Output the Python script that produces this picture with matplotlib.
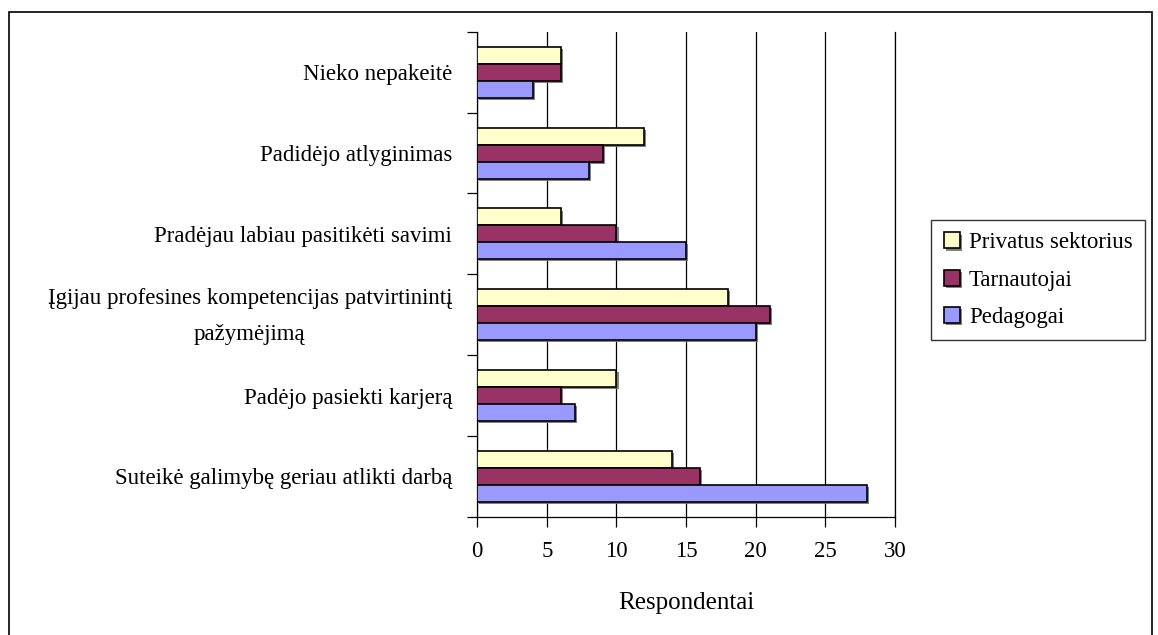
import matplotlib
matplotlib.use("Agg")
import matplotlib.pyplot as plt
import matplotlib.patheffects as pe
from matplotlib.patches import Rectangle
from matplotlib.transforms import ScaledTranslation
import numpy as np

plt.rcParams["font.family"] = ["Liberation Serif", "DejaVu Serif"]

# bottom to top, as drawn
categories = [
    "Suteikė galimybę geriau atlikti darbą",
    "Padėjo pasiekti karjerą",
    "Įgijau profesines kompetencijas patvirtinintį\npažymėjimą",
    "Pradėjau labiau pasitikėti savimi",
    "Padidėjo atlyginimas",
    "Nieko nepakeitė",
]
privatus = [14, 10, 18, 6, 12, 6]
tarnautojai = [16, 6, 21, 10, 9, 6]
pedagogai = [28, 7, 20, 15, 8, 4]
x_ticks = [0, 5, 10, 15, 20, 25, 30]

fig = plt.figure(figsize=(11.58, 6.35), dpi=100)
ax = fig.add_axes([0.412, 0.186, 0.361, 0.764])

# outer frame around the whole chart
fig.patches.append(Rectangle((0.008, -0.01), 0.987, 0.991, transform=fig.transFigure,
                             fill=False, edgecolor="black", linewidth=1.2))

y = np.arange(len(categories))
bh = 0.21
shadow = [pe.SimplePatchShadow(offset=(1.5, -1.5), shadow_rgbFace="0.45", alpha=0.9), pe.Normal()]
series = [
    (privatus, "Privatus sektorius", "#FFFFCC", bh),
    (tarnautojai, "Tarnautojai", "#993366", 0),
    (pedagogai, "Pedagogai", "#9999FF", -bh),
]
for vals, name, col, off in series:
    bars = ax.barh(y + off, vals, height=bh, color=col, edgecolor="black",
                   linewidth=1.2, label=name, zorder=3)
    for b in bars:
        b.set_path_effects(shadow)

ax.set_xlim(0, 30)
ax.set_ylim(-0.5, len(categories) - 0.5)
ax.set_xticks(x_ticks)
ax.set_xticklabels([str(t) for t in x_ticks], fontsize=16.5)
ax.xaxis.grid(True, color="black", linewidth=0.9, zorder=0)
ax.set_axisbelow(True)

ax.set_yticks(y)
ax.set_yticklabels(categories, fontsize=16.5, multialignment="center", linespacing=1.9)
ax.tick_params(axis="y", which="major", length=0, pad=18)
ax.set_yticks(np.arange(-0.5, len(categories)), minor=True)
ax.tick_params(axis="y", which="minor", length=7, width=0.9, direction="out")
ax.tick_params(axis="x", length=7, width=0.9, direction="out", pad=10)

# the two-line label sits a little higher in the original
lbl = ax.get_yticklabels()[2]
lbl.set_transform(lbl.get_transform() + ScaledTranslation(0, 0.08, fig.dpi_scale_trans))

ax.spines["top"].set_visible(False)
for s in ["left", "bottom", "right"]:
    ax.spines[s].set_linewidth(0.9)

ax.set_xlabel("Respondentai", fontsize=18, labelpad=22)

handles, labels = ax.get_legend_handles_labels()
leg = fig.legend(handles, labels, loc="center left", bbox_to_anchor=(0.804, 0.559),
                 fontsize=16.5, frameon=True, fancybox=False, edgecolor="black",
                 handlelength=0.7, handleheight=0.7, handletextpad=0.4,
                 labelspacing=0.7, borderpad=0.55, borderaxespad=0)
leg.get_frame().set_linewidth(1.0)

fig.savefig("out.png", dpi=100)
